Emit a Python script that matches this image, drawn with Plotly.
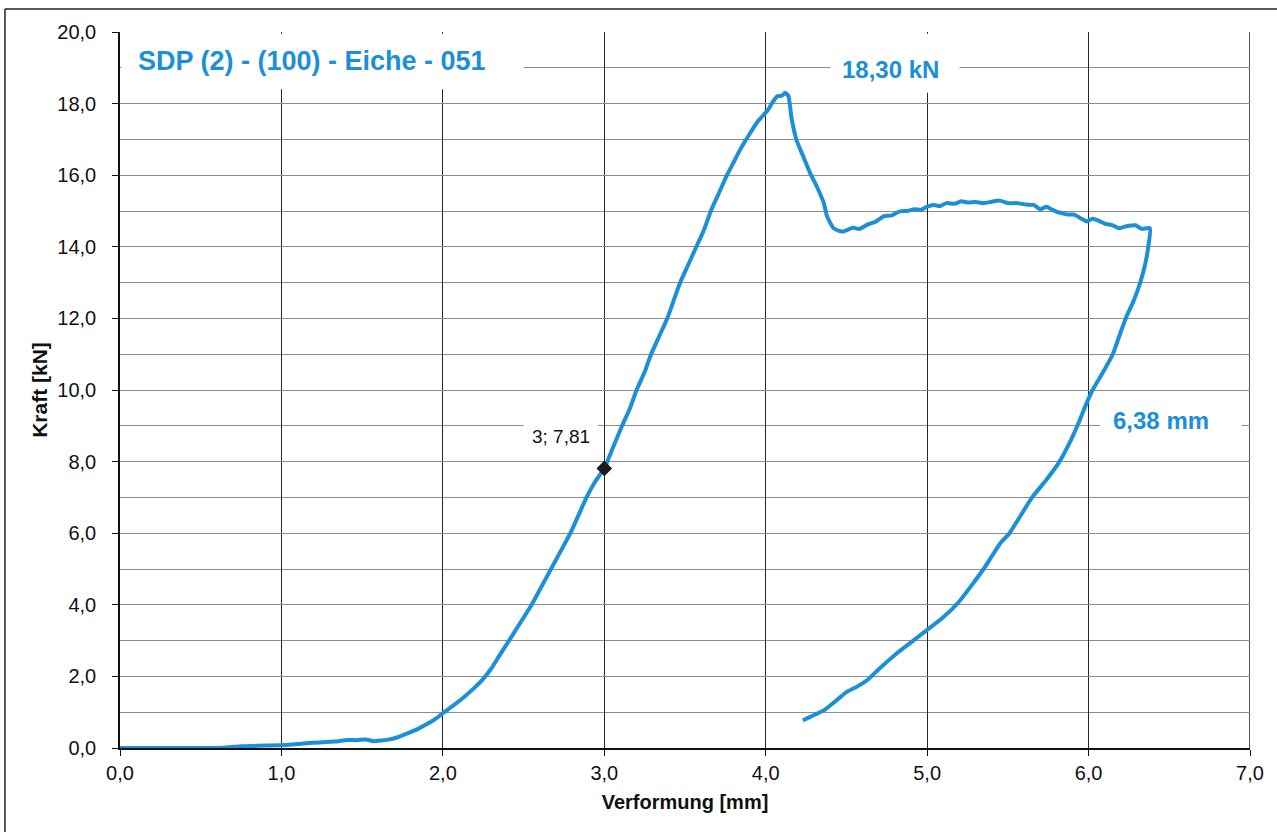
import plotly.graph_objects as go

# ---- data ----
deform_load = [0.00, 0.30, 0.60, 0.68, 0.75, 0.85, 1.00, 1.10, 1.19, 1.26, 1.33, 1.41, 1.47, 1.52,
               1.57, 1.62, 1.67, 1.72, 1.78, 1.84, 1.89, 1.95, 2.00, 2.06, 2.13, 2.20, 2.25, 2.30,
               2.35, 2.41, 2.48, 2.55, 2.61, 2.67, 2.73, 2.79, 2.84, 2.89, 2.945, 3.00, 3.05, 3.11, 3.16,
               3.20, 3.25, 3.29, 3.34, 3.39, 3.43, 3.47, 3.52, 3.57, 3.62, 3.66, 3.71, 3.76, 3.80,
               3.84, 3.90, 3.95, 3.99, 4.01, 4.04, 4.07, 4.10, 4.12, 4.14, 4.16, 4.19, 4.23, 4.275,
               4.32, 4.36, 4.38, 4.42, 4.45, 4.48, 4.51, 4.54, 4.58, 4.63, 4.68, 4.73, 4.78, 4.83,
               4.88, 4.92, 4.96, 5.00, 5.04, 5.08, 5.12, 5.17, 5.21, 5.25, 5.30, 5.35, 5.40, 5.45,
               5.50, 5.56, 5.61, 5.66, 5.70, 5.74, 5.77, 5.80, 5.83, 5.87, 5.91, 5.95, 5.99, 6.02,
               6.05, 6.10, 6.15, 6.19, 6.24, 6.29, 6.33, 6.38]
force_load = [0.00, 0.00, 0.00, 0.02, 0.05, 0.06, 0.08, 0.11, 0.15, 0.16, 0.18, 0.22, 0.22, 0.24,
              0.19, 0.21, 0.24, 0.30, 0.41, 0.52, 0.64, 0.80, 0.97, 1.17, 1.42, 1.70, 1.93, 2.22,
              2.58, 3.00, 3.50, 4.00, 4.50, 5.00, 5.50, 6.00, 6.50, 7.00, 7.45, 7.81, 8.35, 9.00, 9.50,
              10.0, 10.5, 11.0, 11.5, 12.0, 12.5, 13.0, 13.5, 14.0, 14.5, 15.0, 15.5, 16.0, 16.35,
              16.7, 17.15, 17.5, 17.70, 17.80, 18.02, 18.20, 18.22, 18.30, 18.22, 17.6, 16.99, 16.55, 16.06,
              15.65, 15.22, 14.85, 14.52, 14.45, 14.43, 14.48, 14.53, 14.50, 14.62, 14.70, 14.85, 14.88, 14.99,
              15.00, 15.05, 15.03, 15.12, 15.17, 15.14, 15.22, 15.20, 15.27, 15.24, 15.25, 15.22, 15.26, 15.29,
              15.22, 15.22, 15.18, 15.17, 15.05, 15.12, 15.05, 14.98, 14.94, 14.90, 14.90, 14.80, 14.71, 14.78,
              14.75, 14.65, 14.60, 14.52, 14.58, 14.60, 14.50, 14.52]
deform_unload = [6.38, 6.37, 6.35, 6.32, 6.28, 6.23, 6.19, 6.15, 6.09, 6.025, 5.98, 5.94, 5.88, 5.82,
                 5.74, 5.65, 5.58, 5.51, 5.45, 5.35, 5.20, 5.10, 5.00, 4.90, 4.80, 4.70, 4.63, 4.56,
                 4.50, 4.43, 4.36, 4.30, 4.23]
force_unload = [14.52, 14.0, 13.5, 13.0, 12.5, 12.0, 11.5, 11.0, 10.5, 10.0, 9.55, 9.1, 8.5, 8.0,
                7.5, 7.0, 6.5, 6.0, 5.7, 5.0, 4.1, 3.65, 3.3, 2.95, 2.6, 2.2, 1.9, 1.7,
                1.56, 1.3, 1.05, 0.92, 0.77]
marker_point = (3.0, 7.81)
x_ticks = [0, 1, 2, 3, 4, 5, 6, 7]
y_ticks = [0, 2, 4, 6, 8, 10, 12, 14, 16, 18, 20]
title_text = "SDP (2) - (100) - Eiche - 051"
peak_label = "18,30 kN"
max_def_label = "6,38 mm"
point_label = "3; 7,81"

BLUE = "#1B8FD8"
FONT = "Liberation Sans, Arial, sans-serif"

fig = go.Figure()
fig.add_trace(go.Scatter(x=deform_load + deform_unload[1:], y=force_load + force_unload[1:],
                         mode="lines", line=dict(color=BLUE, width=4, shape="spline", smoothing=0.5),
                         showlegend=False, hoverinfo="skip"))
fig.add_trace(go.Scatter(x=[marker_point[0]], y=[marker_point[1]], mode="markers",
                         marker=dict(symbol="diamond", size=12, color="#1a1a1a"),
                         showlegend=False))

# white boxes behind labels (cover grid lines as in reference)
boxes = [(0.01, 2.50, 18.40, 19.95), (4.40, 5.20, 18.30, 19.95),
         (6.07, 6.95, 8.20, 9.70), (2.50, 2.96, 8.65, 9.45)]
for x0, x1, y0, y1 in boxes:
    fig.add_shape(type="rect", x0=x0, x1=x1, y0=y0, y1=y1, xref="x", yref="y",
                  fillcolor="white", line=dict(width=0), layer="above")

fig.add_annotation(x=1.19, y=19.2, xref="x", yref="y", text=f"<b>{title_text}</b>",
                   showarrow=False, font=dict(family=FONT, size=27, color=BLUE))
fig.add_annotation(x=4.77, y=18.95, xref="x", yref="y", text=f"<b>{peak_label}</b>",
                   showarrow=False, font=dict(family=FONT, size=24, color=BLUE))
fig.add_annotation(x=6.45, y=9.15, xref="x", yref="y", text=f"<b>{max_def_label}</b>",
                   showarrow=False, font=dict(family=FONT, size=24, color=BLUE))
fig.add_annotation(x=2.73, y=8.7, xref="x", yref="y", text=point_label,
                   showarrow=False, font=dict(family=FONT, size=19, color="#111"))

# outer chart frame (left and top edges)
fig.add_shape(type="line", xref="paper", yref="paper", x0=-0.1018, x1=-0.1018, y0=1.032, y1=-0.13,
              line=dict(color="#222", width=1.5))
fig.add_shape(type="line", xref="paper", yref="paper", x0=-0.1018, x1=1.05, y0=1.032, y1=1.032,
              line=dict(color="#222", width=1.5))

fig.update_layout(
    width=1277, height=832,
    margin=dict(l=120, r=27, t=32, b=84),
    paper_bgcolor="white", plot_bgcolor="white",
    separators=",.",
    font=dict(family=FONT, color="#111"),
    xaxis=dict(range=[0, 7], tickvals=x_ticks, tickformat=".1f",
               showgrid=True, gridcolor="#262626", gridwidth=1.2,
               showline=True, linecolor="#111", linewidth=1.5, mirror=False,
               ticks="outside", ticklen=6, tickcolor="#111",
               tickfont=dict(size=20, color="#111"), zeroline=False,
               title=dict(text="<b>Verformung [mm]</b>", font=dict(size=20, color="#111"), standoff=12)),
    yaxis=dict(range=[0, 20], tickvals=y_ticks, tickformat=".1f",
               showgrid=True, gridcolor="#8c8c8c", gridwidth=1,
               minor=dict(dtick=1, showgrid=True, gridcolor="#8c8c8c", gridwidth=1),
               showline=True, linecolor="#111", linewidth=1.5,
               ticks="outside", ticklen=6, tickcolor="#111", ticklabelstandoff=12,
               tickfont=dict(size=20, color="#111"), zeroline=False,
               title=dict(text="<b>Kraft [kN]</b>", font=dict(size=21, color="#111"), standoff=4)),
    shapes=list(fig.layout.shapes) + [
        dict(type="line", xref="x", yref="y", x0=7, x1=7, y0=0, y1=20,
             line=dict(color="#222", width=1.5), layer="below")],
)

fig.write_html("out.html")
